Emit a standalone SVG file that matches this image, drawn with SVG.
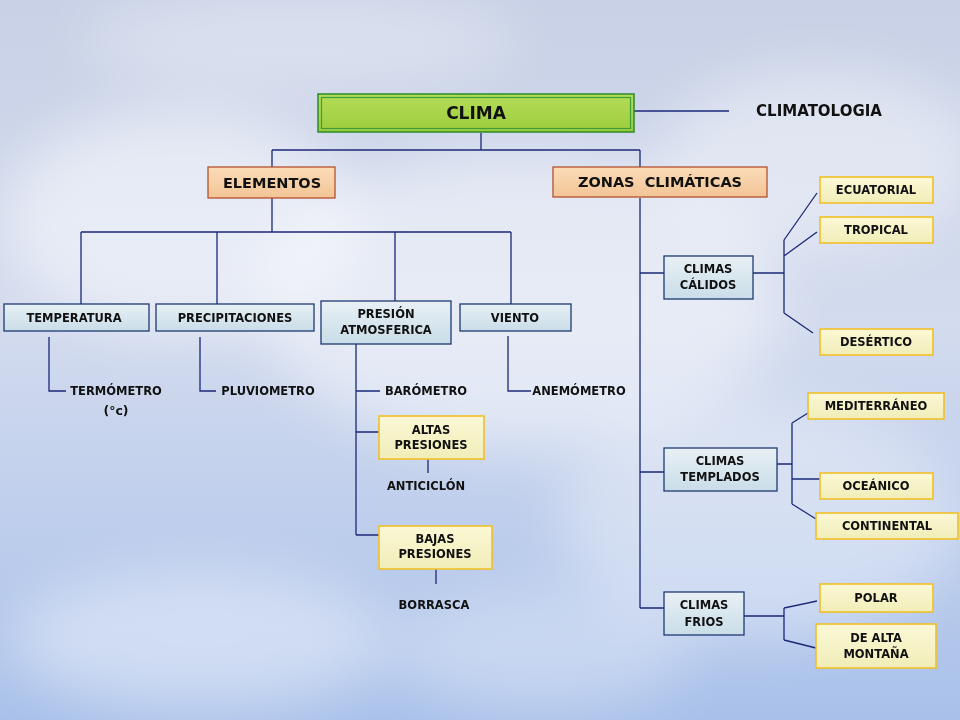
<svg xmlns="http://www.w3.org/2000/svg" width="960" height="720" viewBox="0 0 960 720">
<defs>
  <linearGradient id="sky" x1="0" y1="0" x2="0" y2="1">
    <stop offset="0" stop-color="#c8d1e6"/>
    <stop offset="0.45" stop-color="#d3dbee"/>
    <stop offset="1" stop-color="#a9c1ea"/>
  </linearGradient>
  <filter id="blur" x="-50%" y="-50%" width="200%" height="200%"><feGaussianBlur stdDeviation="28"/></filter>
  <linearGradient id="gBlue" x1="0" y1="0" x2="0" y2="1">
    <stop offset="0" stop-color="#e8f0f5"/>
    <stop offset="1" stop-color="#c9dde8"/>
  </linearGradient>
  <linearGradient id="gYel" x1="0" y1="0" x2="0" y2="1">
    <stop offset="0" stop-color="#fbf8d6"/>
    <stop offset="1" stop-color="#f1edb8"/>
  </linearGradient>
  <linearGradient id="gPeach" x1="0" y1="0" x2="0" y2="1">
    <stop offset="0" stop-color="#fbdcb8"/>
    <stop offset="1" stop-color="#f2c495"/>
  </linearGradient>
  <linearGradient id="gGreen" x1="0" y1="0" x2="0" y2="1">
    <stop offset="0" stop-color="#b4dc58"/>
    <stop offset="1" stop-color="#9ccc3c"/>
  </linearGradient>
</defs>
<style>
  text{font-family:"DejaVu Sans","Liberation Sans",sans-serif;font-weight:bold;fill:#111111;text-anchor:middle}
  .s{font-size:11.5px}
  .m{font-size:14.5px}
  .c{fill:none;stroke:#1b2878;stroke-width:1.3}
  .blue{fill:url(#gBlue);stroke:#1e3a70;stroke-width:1.3}
  .yel{fill:url(#gYel);stroke:#f0c028;stroke-width:1.6}
  .peach{fill:url(#gPeach);stroke:#b5502e;stroke-width:1.3}
</style>

<g id="background">
  <rect width="960" height="720" fill="url(#sky)"/>
  <g filter="url(#blur)" fill="#ffffff">
    <ellipse cx="180" cy="220" rx="180" ry="110" opacity="0.5"/>
    <ellipse cx="520" cy="300" rx="260" ry="150" opacity="0.45"/>
    <ellipse cx="820" cy="160" rx="160" ry="90" opacity="0.4"/>
    <ellipse cx="760" cy="520" rx="200" ry="120" opacity="0.35"/>
    <ellipse cx="200" cy="640" rx="190" ry="70" opacity="0.4"/>
    <ellipse cx="540" cy="650" rx="150" ry="60" opacity="0.3"/>
    <ellipse cx="300" cy="40" rx="220" ry="50" opacity="0.3"/>
  </g>
</g>

<g id="connectors" class="c">
  <path d="M634,111 H729"/>
  <path d="M481,133 V150 M272,150 H640 M272,150 V167 M640,150 V167"/>
  <path d="M272,198 V232 M81,232 H511 M81,232 V304 M217,232 V304 M395,232 V301 M511,232 V304"/>
  <path d="M49,337 V391 H66"/>
  <path d="M200,337 V391 H216"/>
  <path d="M356,344 V535 M356,391 H380 M356,432 H379 M356,535 H379"/>
  <path d="M428,459 V473"/>
  <path d="M436,569 V584"/>
  <path d="M508,336 V391 H531"/>
  <path d="M640,198 V608"/>
  <path d="M640,273 H664 M753,273 H784 M784,240 V313 M784,240 L817,193 M784,256 L817,232 M784,313 L813,333"/>
  <path d="M640,472 H664 M777,464 H792 M792,423 V504 M792,423 L808,413 M792,479 H820 M792,504 L816,519"/>
  <path d="M640,608 H664 M744,616 H784 M784,608 V640 M784,608 L817,601 M784,640 L816,648"/>
</g>

<g id="clima">
  <rect x="318" y="94" width="316" height="38" fill="url(#gGreen)" stroke="#2a8a2a" stroke-width="1.5"/>
  <rect x="321.5" y="97.5" width="309" height="31" fill="none" stroke="#3e9e3e" stroke-width="1.2"/>
  <text x="476" y="119" style="font-size:17px">CLIMA</text>
</g>
<g id="climatologia"><text class="m" x="819" y="116" style="font-size:15px">CLIMATOLOGIA</text></g>

<g id="elementos">
  <rect class="peach" x="208" y="167" width="127" height="31"/>
  <text class="m" x="272" y="188">ELEMENTOS</text>
</g>
<g id="zonas">
  <rect class="peach" x="553" y="167" width="214" height="30"/>
  <text class="m" x="660" y="187" xml:space="preserve">ZONAS  CLIMÁTICAS</text>
</g>

<g id="temperatura">
  <rect class="blue" x="4" y="304" width="145" height="27"/>
  <text class="s" x="74" y="322">TEMPERATURA</text>
</g>
<g id="precipitaciones">
  <rect class="blue" x="156" y="304" width="158" height="27"/>
  <text class="s" x="235" y="322">PRECIPITACIONES</text>
</g>
<g id="presion">
  <rect class="blue" x="321" y="301" width="130" height="43"/>
  <text class="s" x="386" y="318">PRESIÓN</text>
  <text class="s" x="386" y="334">ATMOSFERICA</text>
</g>
<g id="viento">
  <rect class="blue" x="460" y="304" width="111" height="27"/>
  <text class="s" x="515" y="322">VIENTO</text>
</g>

<g id="termometro"><text class="s" x="116" y="395">TERMÓMETRO</text><text class="s" x="116" y="415" style="font-size:12.5px">(°c)</text></g>
<g id="pluviometro"><text class="s" x="268" y="395">PLUVIOMETRO</text></g>
<g id="barometro"><text class="s" x="426" y="395">BARÓMETRO</text></g>
<g id="anemometro"><text class="s" x="579" y="395">ANEMÓMETRO</text></g>

<g id="altas">
  <rect class="yel" x="379" y="416" width="105" height="43"/>
  <text class="s" x="431" y="434">ALTAS</text>
  <text class="s" x="431" y="449">PRESIONES</text>
</g>
<g id="anticiclon"><text class="s" x="426" y="490">ANTICICLÓN</text></g>
<g id="bajas">
  <rect class="yel" x="379" y="526" width="113" height="43"/>
  <text class="s" x="435" y="543">BAJAS</text>
  <text class="s" x="435" y="558">PRESIONES</text>
</g>
<g id="borrasca"><text class="s" x="434" y="609">BORRASCA</text></g>

<g id="calidos">
  <rect class="blue" x="664" y="256" width="89" height="43"/>
  <text class="s" x="708" y="273">CLIMAS</text>
  <text class="s" x="708" y="289">CÁLIDOS</text>
</g>
<g id="templados">
  <rect class="blue" x="664" y="448" width="113" height="43"/>
  <text class="s" x="720" y="465">CLIMAS</text>
  <text class="s" x="720" y="481">TEMPLADOS</text>
</g>
<g id="frios">
  <rect class="blue" x="664" y="592" width="80" height="43"/>
  <text class="s" x="704" y="609">CLIMAS</text>
  <text class="s" x="704" y="626">FRIOS</text>
</g>

<g id="ecuatorial"><rect class="yel" x="820" y="177" width="113" height="26"/><text class="s" x="876" y="194">ECUATORIAL</text></g>
<g id="tropical"><rect class="yel" x="820" y="217" width="113" height="26"/><text class="s" x="876" y="234">TROPICAL</text></g>
<g id="desertico"><rect class="yel" x="820" y="329" width="113" height="26"/><text class="s" x="876" y="346">DESÉRTICO</text></g>
<g id="mediterraneo"><rect class="yel" x="808" y="393" width="136" height="26"/><text class="s" x="876" y="410">MEDITERRÁNEO</text></g>
<g id="oceanico"><rect class="yel" x="820" y="473" width="113" height="26"/><text class="s" x="876" y="490">OCEÁNICO</text></g>
<g id="continental"><rect class="yel" x="816" y="513" width="142" height="26"/><text class="s" x="887" y="530">CONTINENTAL</text></g>
<g id="polar"><rect class="yel" x="820" y="584" width="113" height="28"/><text class="s" x="876" y="602">POLAR</text></g>
<g id="montana">
  <rect class="yel" x="816" y="624" width="120" height="44"/>
  <text class="s" x="876" y="642">DE ALTA</text>
  <text class="s" x="876" y="658">MONTAÑA</text>
</g>
</svg>
